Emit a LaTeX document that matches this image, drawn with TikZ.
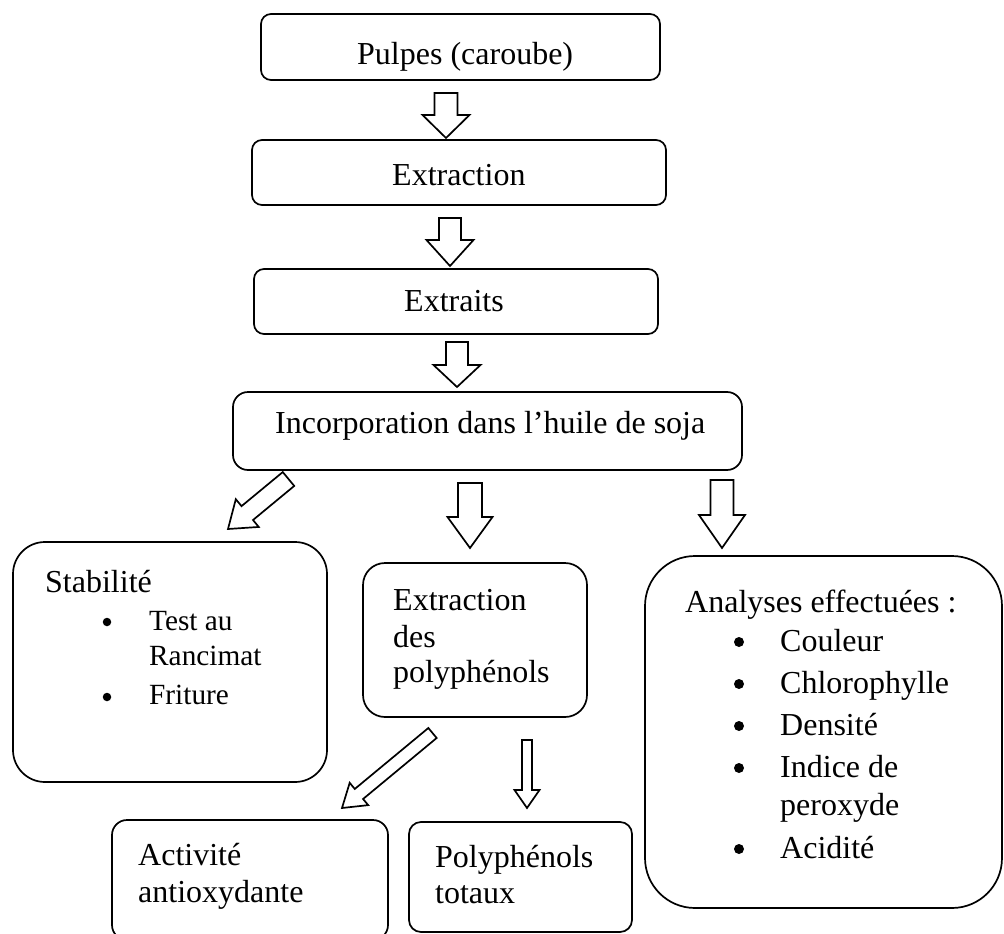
\documentclass[tikz,border=0pt]{standalone}
\usepackage{fontspec}
\setmainfont{Liberation Serif}
\usetikzlibrary{calc}

\tikzset{
  box/.style={draw, line width=1.7pt, rounded corners=#1, inner sep=0pt},
  txt/.style={anchor=base west, inner sep=0pt, font=\fontsize{32}{37}\selectfont},
  txs/.style={anchor=base west, inner sep=0pt, font=\fontsize{29.3}{34}\selectfont},
  bul/.style={circle, fill, inner sep=0pt, minimum size=#1},
  blk/.style={draw, line width=1.7pt, line join=miter, fill=white},
}

% rounded box from its corners: name, x1, y1, x2, y2, corner radius
\newcommand{\rbox}[6]{%
  \node[box=#6pt, minimum width={(#4-#2)*1pt}, minimum height={(#5-#3)*1pt}]
    (#1) at ({(#2+#4)/2},{(#3+#5)/2}) {};}

% hollow block arrow: tail, tip, half shaft width, half head width, head length, name
\newcommand{\blockarrow}[6]{%
  \coordinate (#6h) at ($(#2)!#5pt!(#1)$);
  \draw[blk] ($(#1)!#3pt!90:(#2)$) -- ($(#6h)!#3pt!90:(#2)$)
    -- ($(#6h)!#4pt!90:(#2)$) -- (#2) -- ($(#6h)!#4pt!-90:(#2)$)
    -- ($(#6h)!#3pt!-90:(#2)$) -- ($(#1)!#3pt!-90:(#2)$) -- cycle;}

\begin{document}
\begin{tikzpicture}[x=1pt, y=-1pt]
\useasboundingbox (0,0) rectangle (1004,934);

% main chain
\rbox{pulpes}{261}{14}{660}{80}{10}
\node[txt] (tpulpes) at (357,64) {Pulpes (caroube)};

\rbox{extr}{252}{140}{666}{205}{10}
\node[txt] (textr) at (392,185) {Extraction};

\rbox{extraits}{254}{269}{658}{334}{10}
\node[txt] (textraits) at (404,311) {Extraits};

\rbox{incorp}{233}{392}{742}{470}{15}
\node[txt] (tincorp) at (275,433) {Incorporation dans l’huile de soja};

% stability
\rbox{stab}{13}{542}{327}{782}{32}
\node[txt] (tstab) at (45,592) {Stabilité};
\node[bul=8.5pt] (sb1) at (107,622) {};
\node[txs] (ts1) at (149,630) {Test au};
\node[txs] (ts2) at (149,665) {Rancimat};
\node[bul=8.5pt] (sb2) at (107,697) {};
\node[txs] (ts3) at (149,704) {Friture};

% polyphenol extraction
\rbox{poly}{363}{563}{587}{717}{22}
\node[txt] (tp1) at (393,610) {Extraction};
\node[txt] (tp2) at (393,647) {des};
\node[txt] (tp3) at (393,682) {polyphénols};

% analyses
\rbox{anal}{645}{556}{1002}{908}{50}
\node[txt] (ta0) at (685,612) {Analyses effectuées :};
\node[bul=10pt] (ab1) at (739,642) {};
\node[txt] (ta1) at (780,651) {Couleur};
\node[bul=10pt] (ab2) at (739,684) {};
\node[txt] (ta2) at (780,693) {Chlorophylle};
\node[bul=10pt] (ab3) at (739,726) {};
\node[txt] (ta3) at (780,735) {Densité};
\node[bul=10pt] (ab4) at (739,768) {};
\node[txt] (ta4) at (780,777) {Indice de};
\node[txt] (ta5) at (780,815) {peroxyde};
\node[bul=10pt] (ab5) at (739,849) {};
\node[txt] (ta6) at (780,858) {Acidité};

% results
\rbox{activ}{112}{820}{388}{940}{15}
\node[txt] (tact1) at (138,865) {Activité};
\node[txt] (tact2) at (138,902) {antioxydante};

\rbox{ptot}{409}{822}{632}{932}{12}
\node[txt] (tpt1) at (435,867) {Polyphénols};
\node[txt] (tpt2) at (435,903) {totaux};

% arrow ends
\coordinate (a1t) at (446,93);   \coordinate (a1e) at (446,138);
\coordinate (a2t) at (450,218);  \coordinate (a2e) at (450,266);
\coordinate (a3t) at (457,342);  \coordinate (a3e) at (457,387);
\coordinate (a4t) at (470,483);  \coordinate (a4e) at (470,548);
\coordinate (a5t) at (722,480);  \coordinate (a5e) at (722,548);
\coordinate (a6t) at (288.5,479);\coordinate (a6e) at (228,529);
\coordinate (a7t) at (432.5,733);\coordinate (a7e) at (342,808);
\coordinate (a8t) at (527,740);  \coordinate (a8e) at (527,808);

\blockarrow{a1t}{a1e}{11.5}{23.5}{23}{a1}
\blockarrow{a2t}{a2e}{11}{23.5}{26}{a2}
\blockarrow{a3t}{a3e}{11}{23.5}{22}{a3}
\blockarrow{a4t}{a4e}{12}{22.5}{31}{a4}
\blockarrow{a5t}{a5e}{11.5}{23}{33}{a5}
\blockarrow{a6t}{a6e}{9}{18}{25}{a6}
\blockarrow{a7t}{a7e}{6.5}{14.5}{22}{a7}
\blockarrow{a8t}{a8e}{5}{12.5}{18}{a8}
\end{tikzpicture}
\end{document}
